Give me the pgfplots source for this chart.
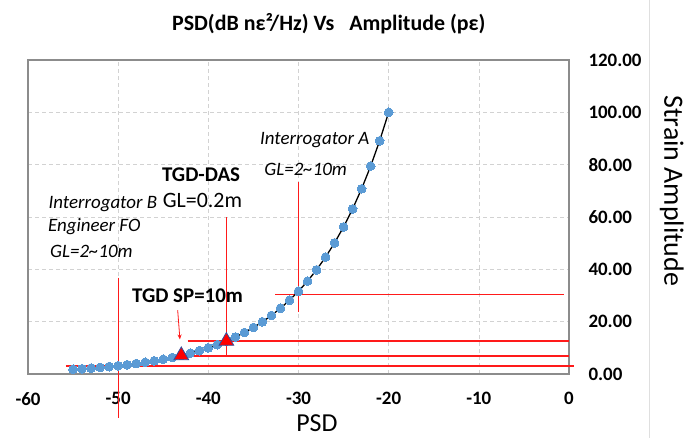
\documentclass[border=0pt]{standalone}
\usepackage{pgfplots}
\pgfplotsset{compat=1.18}
\usepackage{fontspec}
\setmainfont{Carlito}
\usetikzlibrary{arrows.meta}
\definecolor{ptblue}{HTML}{5B9BD5}
\definecolor{tridraw}{HTML}{2F4F9F}
\definecolor{framegray}{HTML}{8C8C8C}
\definecolor{refred}{HTML}{FF1A1A}
\begin{document}
\begin{tikzpicture}
\useasboundingbox (-28bp,-64bp) rectangle (656bp,374bp);
\fill[white] (-28bp,-64bp) rectangle (656bp,374bp);
\draw[gray!25, line width=1bp] (621bp,-64bp) -- (621bp,374bp);
\begin{axis}[
  at={(0,0)}, anchor=south west,
  scale only axis, width=541bp, height=314bp,
  xmin=-60, xmax=0, ymin=0, ymax=120,
  clip=false,
  xtick={-60,-50,-40,-30,-20,-10,0},
  xticklabels={-60,-50,-40,-30,-20,-10,0},
  ytick={0,20,40,60,80,100,120},
  yticklabels={0.00,20.00,40.00,60.00,80.00,100.00,120.00},
  yticklabel pos=right,
  major tick length=0pt,
  grid=major,
  grid style={gray!35, dash pattern=on 4bp off 3bp, line width=0.6bp},
  axis line style={framegray, line width=1.6bp},
  xticklabel style={font=\bfseries\fontsize{19}{22}\selectfont, yshift=-15bp},
  yticklabel style={font=\bfseries\fontsize{19}{22}\selectfont, anchor=west, xshift=16bp},
  title={PSD(dB nε²/Hz) Vs\ \ \ Amplitude (pε)},
  title style={at={(axis description cs:0.556,1.098)}, anchor=center, font=\bfseries\fontsize{22}{26}\selectfont},
  xlabel={PSD},
  every axis x label/.style={at={(axis description cs:0.534,-0.158)}, anchor=center, inner sep=0pt, font=\fontsize{26}{28}\selectfont},
  ylabel={Strain Amplitude},
  every axis y label/.style={at={(axis description cs:1.190,0.583)}, anchor=center, rotate=-90, font=\fontsize{28}{32}\selectfont},
]
% red reference lines
\addplot[draw=refred, line width=1.8bp, forget plot] coordinates {(-55.8,3.00) (0.5,3.00)};
\addplot[draw=refred, line width=1.2bp, forget plot] coordinates {(-50,36.8) (-50,-17)};
\addplot[draw=refred, line width=1.8bp, forget plot] coordinates {(-42.6,7.0) (0,7.0)};
\addplot[draw=refred, line width=1.5bp, forget plot] coordinates {(-42.3,12.59) (0,12.59)};
\addplot[draw=refred, line width=1.2bp, forget plot] coordinates {(-38,6.6) (-38,60)};
\addplot[draw=refred, line width=1.2bp, forget plot] coordinates {(-30,23.8) (-30,73.4)};
\addplot[draw=refred, line width=1.5bp, forget plot] coordinates {(-32.6,30.4) (-0.5,30.4)};
% curve
\addplot[black, line width=1.3bp, mark=*, mark size=4.4bp, mark options={fill=ptblue, draw=ptblue, line width=0pt}] table {
x y
-55 1.778
-54 1.995
-53 2.239
-52 2.512
-51 2.818
-50 3.162
-49 3.548
-48 3.981
-47 4.467
-46 5.012
-45 5.623
-44 6.310
-43 7.079
-42 7.943
-41 8.913
-40 10.000
-39 11.220
-38 12.589
-37 14.125
-36 15.849
-35 17.783
-34 19.953
-33 22.387
-32 25.119
-31 28.184
-30 31.623
-29 35.481
-28 39.811
-27 44.668
-26 50.119
-25 56.234
-24 63.096
-23 70.795
-22 79.433
-21 89.125
-20 100.000
};
% triangles
\addplot[only marks, mark=triangle*, mark size=8.5bp, mark options={fill=red, draw=tridraw, line width=0.8bp}] coordinates {(-43,7.08) (-38,12.59)};
% arrow
\draw[refred, line width=0.8bp, -{Stealth[length=5bp,width=4bp]}] (axis cs:-43.4,24.4) -- (axis cs:-43.15,13.2);
% annotations
\node[font=\itshape\fontsize{19}{22}\selectfont] at (axis cs:-28.2,89.4) {Interrogator A};
\node[font=\itshape\fontsize{19}{22}\selectfont] at (axis cs:-29.2,78) {GL=2\textasciitilde10m};
\node[font=\bfseries\fontsize{21}{24}\selectfont] at (axis cs:-40.8,76) {TGD-DAS};
\node[font=\fontsize{22}{25}\selectfont] at (axis cs:-40.65,66.5) {GL=0.2m};
\node[font=\itshape\fontsize{19}{22}\selectfont] at (axis cs:-51.7,65) {Interrogator B};
\node[font=\itshape\fontsize{19}{22}\selectfont, anchor=west, inner sep=0pt] at (axis cs:-57.8,56.2) {Engineer FO};
\node[font=\itshape\fontsize{19}{22}\selectfont, anchor=west, inner sep=0pt] at (axis cs:-57.56,47) {GL=2\textasciitilde10m};
\node[font=\bfseries\fontsize{21}{24}\selectfont] at (axis cs:-42.3,29.8) {TGD SP=10m};
\end{axis}
\end{tikzpicture}
\end{document}
